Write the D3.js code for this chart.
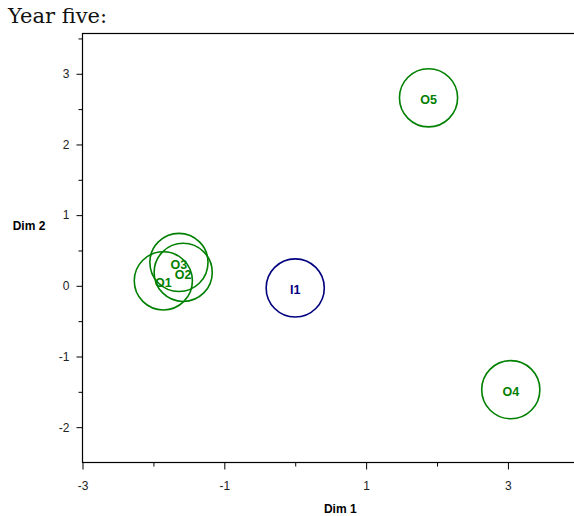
<!DOCTYPE html>
<html>
<head>
<meta charset="utf-8">
<script src="https://cdn.jsdelivr.net/npm/d3@7"></script>
<style>
  html, body { margin: 0; padding: 0; background: #fff; overflow: hidden; }
  svg { display: block; }
</style>
</head>
<body>
<script>
// Group positions in the two-dimensional solution
const labels = ["I1", "O1", "O2", "O3", "O4", "O5"];
const dim1 = [0.0, -1.86, -1.58, -1.64, 3.04, 1.88];
const dim2 = [-0.03, 0.07, 0.19, 0.33, -1.47, 2.66];
const groupType = ["in", "out", "out", "out", "out", "out"];
const circleRadius = 0.41; // in Dim 1 units

const xMajorTicks = [-3, -1, 1, 3];
const xMinorTicks = [-2, 0, 2, 4];
const yMajorTicks = [-2, -1, 0, 1, 2, 3];
const yMinorTicks = [-1.5, -0.5, 0.5, 1.5, 2.5, 3.5];

const W = 574, H = 516;
const plotLeft = 82.5, plotTop = 33.5, plotBottom = 462.5, plotRight = 598;

const x = d3.scaleLinear().domain([-3, 4.27]).range([plotLeft, plotRight]);
const y = d3.scaleLinear().domain([-2.5, 3.57]).range([plotBottom, plotTop]);

const colors = { in: "#000080", out: "#008000" };
const axisFont = "'Liberation Sans', Arial, sans-serif";
const plain = d => String(d); // hyphen-minus, as in the original plot software

const svg = d3.select("body").append("svg")
  .attr("width", W).attr("height", H);

svg.append("text")
  .attr("x", 8).attr("y", 23)
  .attr("font-family", "'DejaVu Serif', serif")
  .attr("font-size", 21)
  .attr("fill", "#111")
  .text("Year five:");

// Plot frame
svg.append("rect")
  .attr("x", plotLeft).attr("y", plotTop)
  .attr("width", plotRight - plotLeft).attr("height", plotBottom - plotTop)
  .attr("fill", "none").attr("stroke", "#000").attr("stroke-width", 1.2);

// X axis
svg.append("g").attr("transform", `translate(0,${plotBottom})`)
  .call(d3.axisBottom(x).tickValues(xMajorTicks).tickSize(7).tickPadding(12).tickFormat(plain))
  .call(g => g.select(".domain").remove())
  .call(g => g.selectAll("text").attr("font-family", axisFont).attr("font-size", 12).attr("fill", "#222"))
  .call(g => g.selectAll("line").attr("stroke", "#000"));
svg.append("g").attr("transform", `translate(0,${plotBottom})`)
  .call(d3.axisBottom(x).tickValues(xMinorTicks).tickSize(4).tickFormat(""))
  .call(g => g.select(".domain").remove())
  .call(g => g.selectAll("line").attr("stroke", "#000"));

// Y axis
svg.append("g").attr("transform", `translate(${plotLeft},0)`)
  .call(d3.axisLeft(y).tickValues(yMajorTicks).tickSize(6).tickPadding(7).tickFormat(plain))
  .call(g => g.select(".domain").remove())
  .call(g => g.selectAll("text").attr("font-family", axisFont).attr("font-size", 12).attr("fill", "#222"))
  .call(g => g.selectAll("line").attr("stroke", "#000"));
svg.append("g").attr("transform", `translate(${plotLeft},0)`)
  .call(d3.axisLeft(y).tickValues(yMinorTicks).tickSize(4).tickFormat(""))
  .call(g => g.select(".domain").remove())
  .call(g => g.selectAll("line").attr("stroke", "#000"));

// Axis titles
svg.append("text")
  .attr("x", (plotLeft + plotRight) / 2).attr("y", 513)
  .attr("text-anchor", "middle")
  .attr("font-family", axisFont).attr("font-size", 12).attr("font-weight", "bold")
  .text("Dim 1");
svg.append("text")
  .attr("x", 29).attr("y", 230)
  .attr("text-anchor", "middle")
  .attr("font-family", axisFont).attr("font-size", 12).attr("font-weight", "bold")
  .text("Dim 2");

// Groups
const rPx = x(circleRadius) - x(0);
const groups = labels.map((l, i) => ({ label: l, d1: dim1[i], d2: dim2[i], type: groupType[i] }));

const marks = svg.append("g");
marks.selectAll("circle").data(groups).join("circle")
  .attr("cx", d => x(d.d1)).attr("cy", d => y(d.d2))
  .attr("r", rPx)
  .attr("fill", "none")
  .attr("stroke", d => colors[d.type])
  .attr("stroke-width", 1.6);
marks.selectAll("text").data(groups).join("text")
  .attr("x", d => x(d.d1)).attr("y", d => y(d.d2) + 6.5)
  .attr("text-anchor", "middle")
  .attr("font-family", axisFont).attr("font-size", 12.5).attr("font-weight", "bold")
  .attr("fill", d => colors[d.type])
  .text(d => d.label);
</script>
</body>
</html>
